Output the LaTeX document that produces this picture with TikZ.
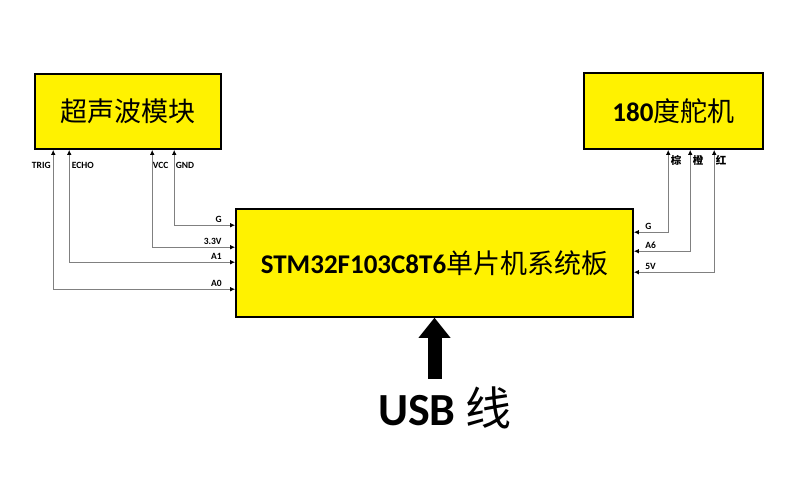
\documentclass[tikz,border=0pt]{standalone}
\usepackage{fontspec}
\setmainfont{Carlito}
\newfontfamily\cjk{Noto Sans CJK SC}
\usetikzlibrary{arrows.meta,positioning,calc}
\tikzset{
  blk/.style={draw,line width=1.6pt,fill=yellow,align=center},
  wire/.style={draw=gray,line width=1.2pt,
    {Latex[length=5pt,width=4.5pt,color=black]}-{Latex[length=5pt,width=4.5pt,color=black]}},
  lbl/.style={font=\bfseries\fontsize{9.5}{10}\selectfont,inner sep=1pt},
  clbl/.style={font=\cjk\bfseries\fontsize{10.5}{11}\selectfont,inner sep=1pt},
  usbarr/.style={line width=14pt,-{Triangle[length=20pt,width=32pt,line width=0pt]}},
}
\begin{document}
\begin{tikzpicture}[x=1pt,y=1pt]
\useasboundingbox (0,0) rectangle (790,482);
% modules
\node[blk,minimum width=186pt,minimum height=75pt,
      font=\cjk\fontsize{27}{29}\selectfont] (sonar) at (128,370.5) {超声波模块};
\node[blk,minimum width=179pt,minimum height=76pt,
      font=\bfseries\fontsize{27}{29}\selectfont] (servo) at (673.5,371) {180{\cjk\mdseries 度舵机}};
\node[blk,minimum width=397pt,minimum height=108pt,
      font=\bfseries\fontsize{27}{29}\selectfont] (mcu) at (434.5,219) {STM32F103C8T6{\cjk\mdseries 单片机系统板}};
% ultrasonic wiring
\draw[wire] ([xshift=19pt]sonar.south west) node[lbl,below left=11pt and 1pt] (trig) {TRIG}
  |- ([yshift=-81pt]mcu.north west) node[lbl,above left=1pt and 12pt] (a0) {A0};
\draw[wire] ([xshift=35pt]sonar.south west) node[lbl,below right=11pt and 1pt] (echo) {ECHO}
  |- ([yshift=-54pt]mcu.north west) node[lbl,above left=1pt and 12pt] (a1) {A1};
\draw[wire] ([xshift=118pt]sonar.south west) node[lbl,below right=11pt and -1pt] (vcc) {VCC}
  |- ([yshift=-39pt]mcu.north west) node[lbl,above left=1pt and 12pt] (v33) {3.3V};
\draw[wire] ([xshift=140pt]sonar.south west) node[lbl,below right=11pt and 0pt] (gnd) {GND}
  |- ([yshift=-17pt]mcu.north west) node[lbl,above left=1pt and 12pt] (g1) {G};
% servo wiring
\draw[wire] ([xshift=85pt]servo.south west) node[clbl,below right=4pt and 1pt] (brn) {棕}
  |- ([yshift=-24pt]mcu.north east) node[lbl,above right=1pt and 10pt] (g2) {G};
\draw[wire] ([xshift=107pt]servo.south west) node[clbl,below right=4pt and 1pt] (org) {橙}
  |- ([yshift=-43pt]mcu.north east) node[lbl,above right=1pt and 10pt] (a6) {A6};
\draw[wire] ([xshift=131pt]servo.south west) node[clbl,below right=4pt and 0pt] (red) {红}
  |- ([yshift=-64pt]mcu.north east) node[lbl,above right=1pt and 10pt] (v5) {5V};
% usb cable
\node[font=\bfseries\fontsize{46}{50}\selectfont] (usb) at (445,74) {USB {\cjk\mdseries 线}};
\coordinate (cable) at ([yshift=-61pt]mcu.south);
\draw[usbarr] (cable) -- (mcu.south);
\end{tikzpicture}
\end{document}
